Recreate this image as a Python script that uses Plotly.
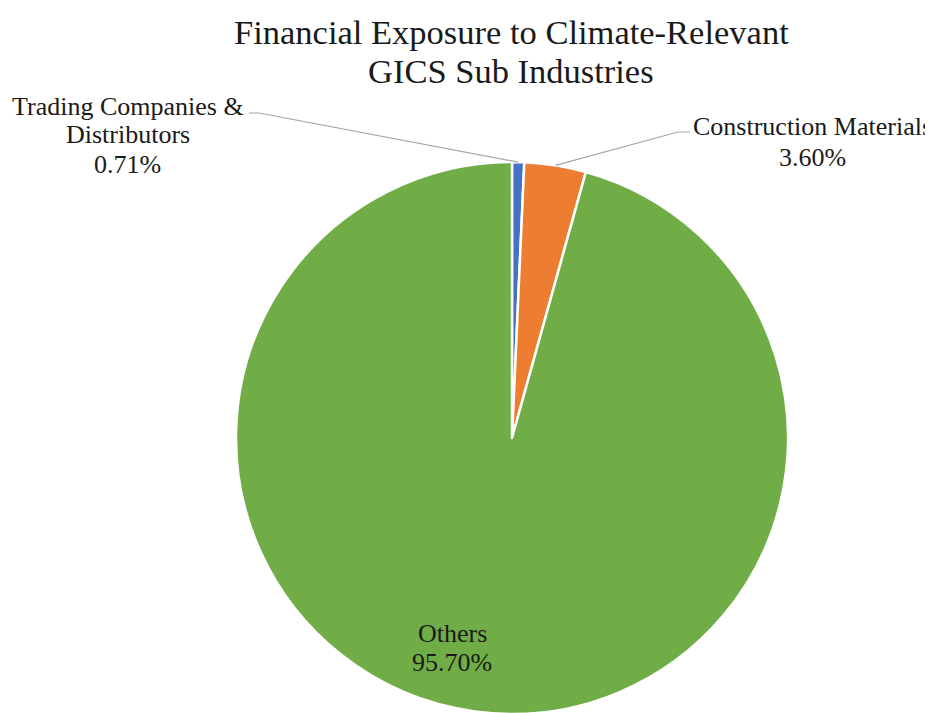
import math
import plotly.graph_objects as go

# ---- data ----
categories = ["Trading Companies & Distributors", "Construction Materials", "Others"]
values = [0.71, 3.60, 95.70]
colors = ["#4472C4", "#ED7D31", "#70AD47"]
label_lines = [["Trading Companies &", "Distributors"], ["Construction Materials"], ["Others"]]
title_lines = ["Financial Exposure to Climate-Relevant", "GICS Sub Industries"]

W, H = 933, 713
OFF = 8  # page body margin
cx, cy, r = 512.0, 438.0, 276.0

def px(x):
    return (x - OFF) / W

def py(y):
    return 1 - (y - OFF) / H

fig = go.Figure(go.Pie(
    labels=categories, values=values, sort=False, direction="clockwise", rotation=0,
    textinfo="none",
    marker=dict(colors=colors, line=dict(color="white", width=2.5)),
    domain=dict(x=[px(cx - r), px(cx + r)], y=[py(cy + r), py(cy - r)]),
    showlegend=False, hoverinfo="label+value",
))

FAM = "Liberation Serif"
COL = "#1a1a1a"

annotations = []
for txt, ty in zip(title_lines, [32, 71]):
    annotations.append(dict(
        x=px(511), y=py(ty), xref="paper", yref="paper", text=txt,
        showarrow=False, font=dict(size=34.5, family=FAM, color=COL),
        xanchor="center", yanchor="middle"))

label_pos = [(128, 106, 29), (812, 127, 30), (452, 633, 29)]
for lines, v, (lx, ly, step) in zip(label_lines, values, label_pos):
    for j, txt in enumerate(lines + [f"{v:.2f}%"]):
        annotations.append(dict(
            x=px(lx), y=py(ly + j * step), xref="paper", yref="paper",
            text=txt, showarrow=False,
            font=dict(size=26, family=FAM, color=COL),
            xanchor="center", yanchor="middle"))

total = sum(values)
cum = 0.0
mids = []
for v in values:
    mids.append((cum + v / 2) / total * 2 * math.pi)
    cum += v
starts = [((249, 113), (259, 113)), ((690, 132), (678, 132))]
shapes = []
for i, ((x0, y0), (x1, y1)) in enumerate(starts):
    th = mids[i]
    ex = cx + r * math.sin(th)
    ey = cy - r * math.cos(th)
    shapes.append(dict(
        type="path", xref="paper", yref="paper",
        path=f"M {px(x0)} {py(y0)} L {px(x1)} {py(y1)} L {px(ex)} {py(ey)}",
        line=dict(color="#a6a6a6", width=1.2)))

fig.update_layout(
    width=W, height=H, margin=dict(l=0, r=0, t=0, b=0),
    paper_bgcolor="white", plot_bgcolor="white",
    annotations=annotations, shapes=shapes,
)
fig.write_html("out.html")
